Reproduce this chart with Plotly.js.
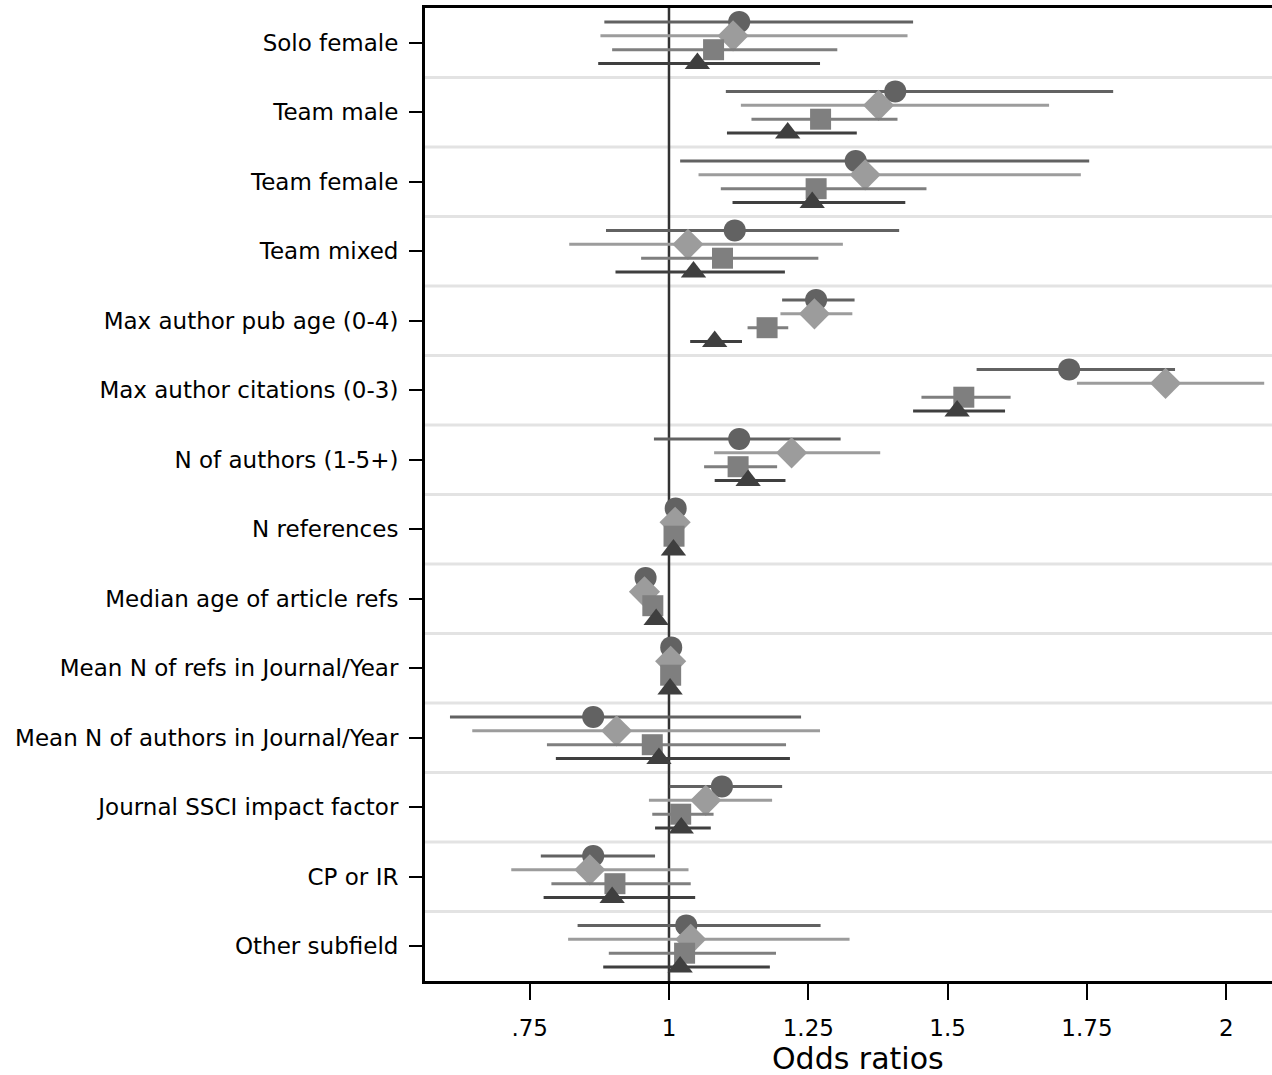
<!DOCTYPE html>
<html>
<head>
<meta charset="utf-8">
<script src="https://cdn.plot.ly/plotly-3.0.1.min.js"></script>
<style>
html,body{margin:0;padding:0;overflow:hidden;background:#fff;}
#chart{width:1290px;height:1075px;}
</style>
</head>
<body>
<div id="chart"></div>
<script>
const categories = ["Solo female","Team male","Team female","Team mixed","Max author pub age (0-4)","Max author citations (0-3)","N of authors (1-5+)","N references","Median age of article refs","Mean N of refs in Journal/Year","Mean N of authors in Journal/Year","Journal SSCI impact factor","CP or IR","Other subfield"];

const circleOR = [1.126,1.406,1.335,1.118,1.264,1.718,1.126,1.012,0.958,1.004,0.864,1.095,0.864,1.031];
const circleLo = [0.884,1.102,1.020,0.887,1.203,1.552,0.973,1.008,0.954,1.001,0.607,1.001,0.770,0.836];
const circleHi = [1.438,1.797,1.754,1.413,1.333,1.908,1.308,1.016,0.962,1.007,1.237,1.203,0.975,1.272];

const diamondOR = [1.115,1.376,1.352,1.034,1.261,1.891,1.220,1.011,0.956,1.003,0.906,1.066,0.858,1.039];
const diamondLo = [0.877,1.129,1.053,0.821,1.200,1.732,1.081,1.007,0.952,1.000,0.647,0.964,0.717,0.819];
const diamondHi = [1.428,1.682,1.739,1.312,1.329,2.068,1.379,1.015,0.960,1.006,1.271,1.185,1.035,1.324];

const squareOR = [1.080,1.272,1.264,1.096,1.176,1.529,1.124,1.009,0.971,1.003,0.970,1.021,0.903,1.028];
const squareLo = [0.898,1.148,1.093,0.950,1.141,1.453,1.063,1.006,0.967,1.000,0.781,0.970,0.789,0.892];
const squareHi = [1.302,1.410,1.462,1.268,1.214,1.613,1.194,1.012,0.975,1.006,1.210,1.080,1.039,1.192];

const triangleOR = [1.051,1.213,1.257,1.044,1.082,1.517,1.142,1.008,0.977,1.002,0.982,1.022,0.898,1.020];
const triangleLo = [0.873,1.104,1.114,0.904,1.038,1.438,1.082,1.005,0.973,0.999,0.797,0.975,0.775,0.882];
const triangleHi = [1.271,1.337,1.424,1.208,1.131,1.603,1.209,1.011,0.981,1.005,1.217,1.075,1.047,1.181];

const xTickVals = [0.75,1,1.25,1.5,1.75,2];
const xTickText = [".75","1","1.25","1.5","1.75","2"];

const FONT = "DejaVu Sans, Verdana, sans-serif";

function mk(or, lo, hi, offset, symbol, size, color) {
  return {
    type: "scatter",
    mode: "markers",
    x: or,
    y: or.map((_, i) => i + offset),
    error_x: {
      type: "data", symmetric: false,
      array: or.map((v, i) => hi[i] - v),
      arrayminus: or.map((v, i) => v - lo[i]),
      color: color, thickness: 3, width: 0
    },
    marker: {symbol: symbol, size: size, color: color, line: {width: 0}},
    hoverinfo: "x",
    showlegend: false
  };
}

const traces = [
  mk(circleOR, circleLo, circleHi, -0.3, "circle", 22, "#626262"),
  mk(diamondOR, diamondLo, diamondHi, -0.1, "diamond", 24, "#9c9c9c"),
  mk(squareOR, squareLo, squareHi, 0.1, "square", 21, "#7f7f7f"),
  mk(triangleOR, triangleLo, triangleHi, 0.3, "triangle-up", 22, "#3f3f3f")
];

const shapes = [];
for (let i = 0; i < categories.length - 1; i++) {
  shapes.push({type: "line", xref: "paper", x0: 0, x1: 1, yref: "y", y0: i + 0.5, y1: i + 0.5,
    line: {color: "#e3e3e3", width: 3}, layer: "below"});
}
shapes.push({type: "line", xref: "x", x0: 1, x1: 1, yref: "paper", y0: 0, y1: 1,
  line: {color: "#333333", width: 2.5}, layer: "below"});

const layout = {
  width: 1290, height: 1075,
  margin: {l: 425, r: 0, t: 8, b: 94},
  paper_bgcolor: "#ffffff", plot_bgcolor: "#ffffff",
  font: {family: FONT, size: 23, color: "#000"},
  xaxis: {
    range: [0.5622, 2.1143],
    tickvals: xTickVals, ticktext: xTickText,
    showgrid: false, zeroline: false,
    showline: true, linecolor: "#000", linewidth: 3, mirror: true,
    ticks: "outside", ticklen: 16, tickwidth: 2, tickcolor: "#000",
    ticklabelstandoff: 8,
    tickfont: {family: FONT, size: 23, color: "#000"}
  },
  yaxis: {
    range: [categories.length - 0.5, -0.5],
    tickvals: categories.map((_, i) => i), ticktext: categories,
    showgrid: false, zeroline: false,
    showline: true, linecolor: "#000", linewidth: 3, mirror: true,
    ticks: "outside", ticklen: 13, tickwidth: 2, tickcolor: "#000",
    ticklabelstandoff: 6,
    tickfont: {family: FONT, size: 23, color: "#000"}
  },
  shapes: shapes,
  annotations: [{
    text: "Odds ratios", xref: "paper", yref: "paper", x: 0.5, y: -0.0795,
    xanchor: "center", yanchor: "middle", showarrow: false,
    font: {family: FONT, size: 30, color: "#000"}
  }]
};

Plotly.newPlot("chart", traces, layout, {displayModeBar: false, staticPlot: true});
</script>
</body>
</html>
